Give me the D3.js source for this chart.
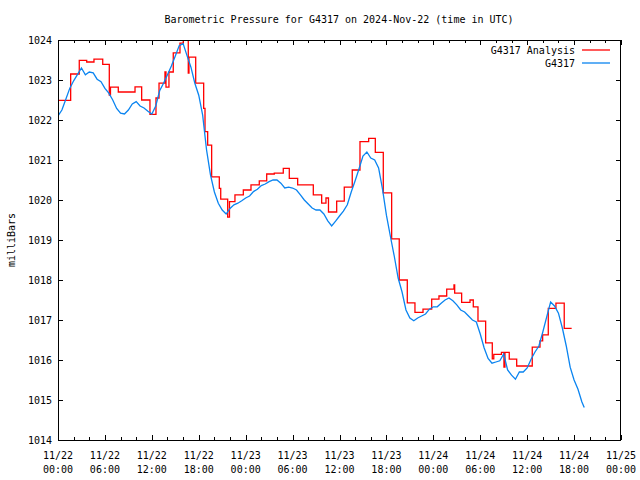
<!DOCTYPE html>
<html><head><meta charset="utf-8">
<script src="https://cdn.jsdelivr.net/npm/d3@7"></script>
<style>body{margin:0;background:#fff}svg{display:block}text{font-family:"DejaVu Sans Mono",monospace;font-size:10px;fill:#000}</style>
</head><body>
<script>
// ---- data (hours since 2024-11-22 00:00 UTC) ----
const yTicks = [1014,1015,1016,1017,1018,1019,1020,1021,1022,1023,1024];
const seriesNames = ["G4317 Analysis","G4317"];

const analysisHours = [0,1.62,2.72,3.67,4.60,5.72,6.56,6.71,7.71,9.85,10.70,11.76,12.53,12.92,13.68,13.81,14.19,14.74,15.60,16.02,16.66,16.75,17.61,18.63,18.80,19.14,19.65,20.63,20.81,21.70,21.93,22.63,23.70,24.68,25.74,26.69,27.66,28.81,29.58,30.65,32.65,33.72,34.27,34.59,35.64,36.61,37.63,38.62,39.73,40.58,41.60,42.67,43.64,44.67,45.65,46.68,47.79,48.72,49.71,50.64,50.73,51.62,52.69,53.11,53.71,54.69,55.54,55.73,56.71,57.03,57.16,57.71,58.66,60.65,61.64,61.98,62.70,63.68,64.74,65.69];
const analysisValues = [1022.49,1023.15,1023.49,1023.45,1023.52,1023.39,1022.62,1022.82,1022.70,1022.83,1022.50,1022.14,1022.55,1022.92,1023.20,1022.82,1023.20,1023.68,1023.92,1024.30,1023.17,1023.57,1022.92,1022.29,1021.71,1021.37,1020.58,1020.29,1020.02,1019.57,1019.96,1020.13,1020.25,1020.38,1020.48,1020.65,1020.67,1020.79,1020.54,1020.38,1020.13,1019.92,1020.05,1019.70,1019.97,1020.32,1020.75,1021.46,1021.54,1021.19,1020.18,1019.03,1018.00,1017.43,1017.19,1017.27,1017.52,1017.60,1017.77,1017.88,1017.67,1017.44,1017.50,1017.33,1016.97,1016.43,1016.03,1016.14,1016.19,1015.82,1016.19,1016.02,1015.85,1016.32,1016.48,1016.63,1017.29,1017.42,1016.79,1016.79];

const obsHours = [0,0.5,1,1.5,2,2.5,3,3.5,4,4.5,5,5.5,6,6.5,7,7.5,8,8.5,9,9.5,10,10.5,11,11.5,12,12.5,13,13.5,14,14.5,15,15.5,16,16.5,17,17.5,18,18.5,19,19.5,20,20.5,21,21.5,22,22.5,23,23.5,24,24.5,25,25.5,26,26.5,27,27.5,28,28.5,29,29.5,30,30.5,31,31.5,32,32.5,33,33.5,34,34.5,35,35.5,36,36.5,37,37.5,38,38.5,39,39.5,40,40.5,41,41.5,42,42.5,43,43.5,44,44.5,45,45.5,46,46.5,47,47.5,48,48.5,49,49.5,50,50.5,51,51.5,52,52.5,53,53.5,54,54.5,55,55.5,56,56.5,57,57.5,58,58.5,59,59.5,60,60.5,61,61.5,62,62.5,63,63.5,64,64.5,65,65.5,66,66.5,67,67.3];
const obsValues = [1022.10,1022.25,1022.52,1022.79,1022.98,1023.14,1023.30,1023.13,1023.20,1023.18,1023.02,1022.96,1022.79,1022.67,1022.50,1022.29,1022.17,1022.15,1022.25,1022.40,1022.46,1022.35,1022.30,1022.22,1022.15,1022.35,1022.73,1022.92,1023.13,1023.35,1023.60,1023.86,1023.91,1023.61,1023.32,1022.92,1022.62,1022.12,1021.25,1020.63,1020.20,1019.92,1019.75,1019.65,1019.79,1019.88,1019.92,1019.98,1020.05,1020.10,1020.21,1020.27,1020.36,1020.40,1020.46,1020.50,1020.50,1020.42,1020.30,1020.32,1020.30,1020.25,1020.13,1020.00,1019.90,1019.80,1019.75,1019.75,1019.65,1019.48,1019.35,1019.47,1019.60,1019.72,1019.88,1020.20,1020.48,1020.78,1021.10,1021.20,1021.05,1021.00,1020.80,1020.27,1019.62,1019.10,1018.60,1018.05,1017.70,1017.25,1017.05,1016.98,1017.05,1017.10,1017.15,1017.27,1017.33,1017.33,1017.42,1017.50,1017.55,1017.48,1017.38,1017.25,1017.20,1017.10,1017.00,1016.95,1016.65,1016.30,1016.04,1015.92,1015.95,1015.98,1016.15,1015.75,1015.62,1015.52,1015.70,1015.70,1015.80,1016.02,1016.20,1016.35,1016.70,1017.08,1017.45,1017.35,1017.17,1016.80,1016.35,1015.82,1015.50,1015.27,1014.95,1014.81];

// ---- layout ----
const W=640,H=480, L=58, R=621, T=40, B=440;
const t0 = Date.UTC(2024,10,22);
const toDate = h => new Date(t0 + h*3600e3);

const x = d3.scaleUtc().domain([toDate(0), toDate(72)]).range([L,R]);
const y = d3.scaleLinear().domain([1014,1024]).range([B,T]);

const svg = d3.select("body").append("svg").attr("width",W).attr("height",H);

svg.append("defs").append("clipPath").attr("id","clip")
  .append("rect").attr("x",L).attr("y",T).attr("width",R-L).attr("height",B-T);

// title
svg.append("text").attr("x",339).attr("y",23).attr("text-anchor","middle")
  .text("Barometric Pressure for G4317 on 2024-Nov-22 (time in UTC)");
// y label
svg.append("text").attr("transform","translate(15,240) rotate(-90)").attr("text-anchor","middle").text("milliBars");

const ax = svg.append("g").attr("shape-rendering","crispEdges");
// x ticks bottom/top (major every 6h, minor every 2h)
const major = d3.utcHour.every(6), minor = d3.utcHour.every(2);
function xa(fn, every, size, ty){
  const g = ax.append("g").attr("transform",`translate(0,${ty})`)
    .call(fn(x).ticks(every).tickSize(-size).tickFormat(""));
  g.select(".domain").remove();
  g.selectAll("line").attr("stroke","#000");
}
xa(d3.axisBottom, minor, 3, B);
xa(d3.axisBottom, major, 5, B);
xa(d3.axisTop, minor, 3, T);
xa(d3.axisTop, major, 5, T);
// y ticks
const gy = ax.append("g").attr("transform",`translate(${L},0)`)
  .call(d3.axisLeft(y).tickValues(yTicks).tickSize(-5).tickPadding(6).tickFormat(d3.format("d")));
gy.select(".domain").remove();
gy.selectAll("line").attr("stroke","#000");
gy.selectAll("text").style("font-family",'"DejaVu Sans Mono",monospace').style("font-size","10px").attr("fill","#000");
const gy2 = ax.append("g").attr("transform",`translate(${R},0)`)
  .call(d3.axisRight(y).tickValues(yTicks).tickSize(-5).tickFormat(""));
gy2.select(".domain").remove();
gy2.selectAll("line").attr("stroke","#000");

// x labels
const fmtD = d3.utcFormat("%m/%d"), fmtT = d3.utcFormat("%H:%M");
const xl = svg.append("g");
x.ticks(major).forEach(d=>{
  const t = xl.append("text").attr("text-anchor","middle");
  t.append("tspan").attr("x",x(d)).attr("y",459).text(fmtD(d));
  t.append("tspan").attr("x",x(d)).attr("y",473).text(fmtT(d));
});

// series
const plot = svg.append("g").attr("clip-path","url(#clip)");
const redData = analysisHours.map((h,i)=>[toDate(h), analysisValues[i]]);
const blueData = obsHours.map((h,i)=>[toDate(h), obsValues[i]]);
plot.append("path").datum(redData).attr("fill","none").attr("stroke","#ff0000").attr("stroke-width",1.3)
  .attr("d", d3.line().x(d=>x(d[0])).y(d=>y(d[1])).curve(d3.curveStepAfter));
plot.append("path").datum(blueData).attr("fill","none").attr("stroke","#0a84f0").attr("stroke-width",1.3)
  .attr("d", d3.line().x(d=>x(d[0])).y(d=>y(d[1])));

// frame
svg.append("rect").attr("x",L+0.5).attr("y",T+0.5).attr("width",R-L-1).attr("height",B-T)
  .attr("fill","none").attr("stroke","#000").attr("shape-rendering","crispEdges");

// legend
const leg = svg.append("g");
[["#ff0000",50],["#0a84f0",63]].forEach((c,i)=>{
  leg.append("text").attr("x",575).attr("y",c[1]+3.5).attr("text-anchor","end").text(seriesNames[i]);
  leg.append("line").attr("x1",582).attr("x2",610).attr("y1",c[1]).attr("y2",c[1])
    .attr("stroke",c[0]).attr("stroke-width",1.3);
});
</script>
</body></html>
